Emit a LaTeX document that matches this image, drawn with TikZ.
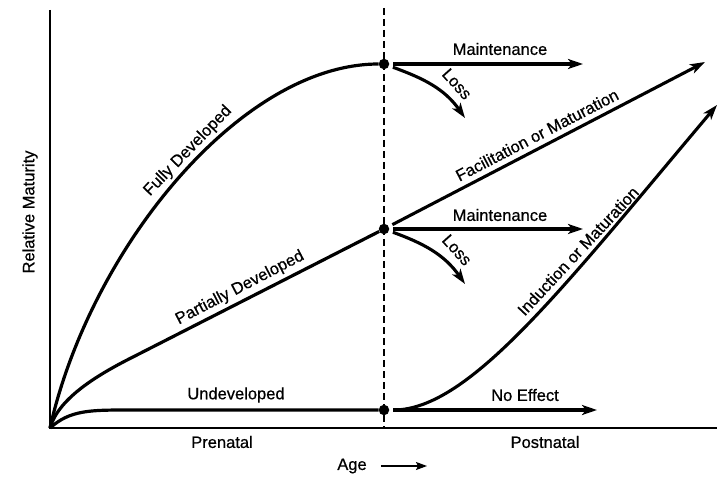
\documentclass[tikz,border=0pt]{standalone}
\usepackage{fontspec}
\setmainfont{Liberation Sans}
\newfontfamily\labelfont{Liberation Sans}[FakeBold=0.6]
\usetikzlibrary{arrows.meta}
\begin{document}
\begin{tikzpicture}[x=1pt,y=-1pt,
  lbl/.style={font=\labelfont\fontsize{16.5}{19}\selectfont, inner sep=0pt},
  dot/.style={circle, fill, inner sep=0pt, minimum size=10.5pt},
  curve/.style={line width=3.2pt},
  arr/.style={line width=3.1pt, shorten <=4pt, -{Stealth[length=15pt,width=10pt,inset=4pt]}},
  axis/.style={line width=2.2pt},
  divider/.style={line width=1.4pt, dash pattern=on 7pt off 4pt}]
\useasboundingbox (0,0) rectangle (717,478);

% axes and the birth divider
\coordinate (o) at (50,428);
\coordinate (ytop) at (50,10);
\coordinate (xend) at (717,428);
\coordinate (dtop) at (384,8);
\coordinate (dbot) at (384,428);
\draw[axis] (ytop) -- (o) -- (xend);
\draw[divider] (dtop) -- (dbot);

% state at birth
\node[dot] (full) at (384,64) {};
\node[dot] (part) at (384,229) {};
\node[dot] (none) at (384,410) {};

% prenatal development curves
\draw[curve] (o) .. controls (90,250) and (240,64) .. (full);
\draw[curve] (o) .. controls (58,400) and (93,377) .. (133,357) -- (part);
\draw[curve] (o) .. controls (70,410) and (90,410) .. (130,410) -- (none);

% postnatal outcomes
\coordinate (m1) at (583,64);
\coordinate (l1) at (465,118);
\coordinate (fac) at (705,62);
\coordinate (m2) at (583,229);
\coordinate (l2) at (465,284);
\coordinate (ind) at (717,105);
\coordinate (ne) at (597,410);
\draw[arr] (full) -- (m1);
\draw[arr] (full) to[out=-20,in=125] (l1);
\draw[arr] (part) -- (fac);
\draw[arr] (part) -- (m2);
\draw[arr] (part) to[out=-20,in=125] (l2);
\draw[arr] (none) .. controls (470,410) and (565,285) .. (ind);
\draw[arr] (none) -- (ne);

% labels
\node[lbl, rotate=46] (tfull) at (188,151) {Fully Developed};
\node[lbl, rotate=27.5] (tpart) at (240,288) {Partially Developed};
\node[lbl] (tnone) at (236,395) {Undeveloped};
\node[lbl] (tm1) at (500,49) {Maintenance};
\node[lbl, rotate=-48] (tl1) at (457,84) {Loss};
\node[lbl, rotate=27.4] (tfac) at (537,135) {Facilitation or Maturation};
\node[lbl] (tm2) at (500,215) {Maintenance};
\node[lbl, rotate=-48] (tl2) at (457,250) {Loss};
\node[lbl, rotate=47] (tind) at (578,251) {Induction or Maturation};
\node[lbl] (tne) at (525,395) {No Effect};

% axis titles
\node[lbl, rotate=90] (ylab) at (30,212) {Relative Maturity};
\node[lbl] (pre) at (222,442) {Prenatal};
\node[lbl] (post) at (545,442) {Postnatal};
\node[lbl] (age) at (352,466) {Age};
\coordinate (agetip) at (427,466);
\draw[line width=1.2pt, -{Stealth[length=11pt,width=8pt,inset=2pt]}] (age.east) ++(14,0) coordinate (agestart) (agestart) -- (agetip);
\end{tikzpicture}
\end{document}
